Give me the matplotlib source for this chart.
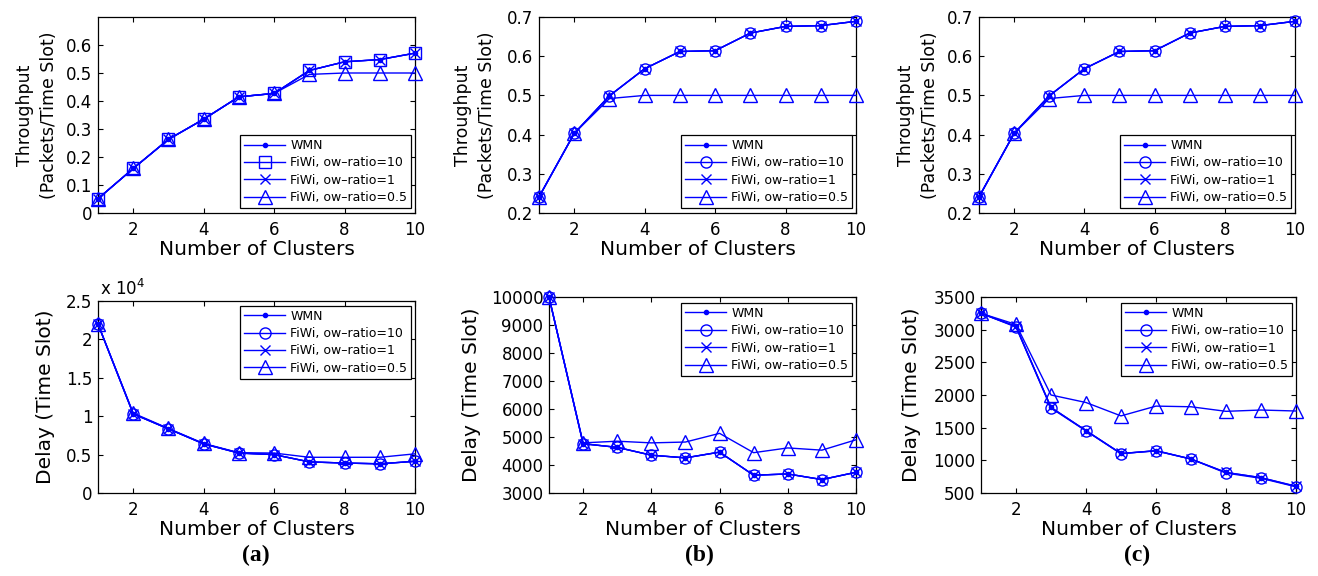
import matplotlib
matplotlib.use("Agg")
import matplotlib.pyplot as plt
from matplotlib.ticker import FuncFormatter

plt.rcParams['font.family'] = ['DejaVu Sans']

clusters = [1, 2, 3, 4, 5, 6, 7, 8, 9, 10]
labels = ["WMN", "FiWi, ow\u2013ratio=10", "FiWi, ow\u2013ratio=1", "FiWi, ow\u2013ratio=0.5"]

# (a) throughput
thr_a_wmn = [0.051, 0.159, 0.263, 0.335, 0.415, 0.427, 0.509, 0.540, 0.548, 0.571]
thr_a_ow10 = [0.051, 0.159, 0.263, 0.335, 0.415, 0.427, 0.509, 0.540, 0.548, 0.571]
thr_a_ow1 = [0.051, 0.159, 0.263, 0.335, 0.415, 0.427, 0.509, 0.540, 0.548, 0.571]
thr_a_ow05 = [0.051, 0.159, 0.263, 0.335, 0.415, 0.427, 0.495, 0.500, 0.500, 0.500]
# (b) throughput
thr_b_wmn = [0.241, 0.403, 0.499, 0.568, 0.612, 0.614, 0.659, 0.676, 0.678, 0.689]
thr_b_ow10 = [0.241, 0.403, 0.499, 0.568, 0.612, 0.614, 0.659, 0.676, 0.678, 0.689]
thr_b_ow1 = [0.241, 0.403, 0.499, 0.568, 0.612, 0.614, 0.659, 0.676, 0.678, 0.689]
thr_b_ow05 = [0.241, 0.403, 0.492, 0.500, 0.500, 0.500, 0.500, 0.500, 0.500, 0.500]
# (c) throughput
thr_c_wmn = [0.241, 0.403, 0.499, 0.568, 0.612, 0.614, 0.659, 0.676, 0.678, 0.689]
thr_c_ow10 = [0.241, 0.403, 0.499, 0.568, 0.612, 0.614, 0.659, 0.676, 0.678, 0.689]
thr_c_ow1 = [0.241, 0.403, 0.499, 0.568, 0.612, 0.614, 0.659, 0.676, 0.678, 0.689]
thr_c_ow05 = [0.241, 0.403, 0.492, 0.500, 0.500, 0.500, 0.500, 0.500, 0.500, 0.500]

# (a) delay
del_a_wmn = [22000, 10300, 8350, 6400, 5200, 5000, 4050, 3900, 3800, 4130]
del_a_ow10 = [22000, 10300, 8350, 6400, 5200, 5000, 4050, 3900, 3800, 4130]
del_a_ow1 = [22000, 10300, 8350, 6400, 5200, 5000, 4050, 3900, 3800, 4130]
del_a_ow05 = [22000, 10400, 8400, 6450, 5250, 5200, 4650, 4650, 4650, 5100]
# (b) delay
del_b_wmn = [10000, 4760, 4630, 4350, 4255, 4460, 3635, 3680, 3480, 3740]
del_b_ow10 = [10000, 4760, 4630, 4350, 4255, 4460, 3635, 3680, 3480, 3740]
del_b_ow1 = [10000, 4760, 4630, 4350, 4255, 4460, 3635, 3680, 3480, 3740]
del_b_ow05 = [10000, 4790, 4850, 4790, 4820, 5130, 4440, 4610, 4530, 4900]
# (c) delay
del_c_wmn = [3250, 3050, 1810, 1455, 1105, 1145, 1020, 815, 735, 600]
del_c_ow10 = [3250, 3040, 1800, 1450, 1100, 1150, 1020, 805, 725, 595]
del_c_ow1 = [3250, 3050, 1810, 1455, 1105, 1145, 1020, 815, 735, 605]
del_c_ow05 = [3250, 3080, 2000, 1885, 1680, 1830, 1820, 1750, 1770, 1755]

W, H = 1318, 576
fig = plt.figure(figsize=(W / 100, H / 100), dpi=100)

def ax_at(l, r, t, b):
    return fig.add_axes([l / W, 1 - b / H, (r - l) / W, (b - t) / H])

BLUE = (0, 0, 1)

def draw(ax, series, ow10_marker, yticks, ylim, ylabel, ylab_fs, ylab_x, leg_loc, leg_anchor, fmt=None):
    wmn, ow10, ow1, ow05 = series
    hs = []
    hs += ax.plot(clusters, wmn, color=BLUE, lw=1.0, marker='.', ms=6, clip_on=False, zorder=3)
    hs += ax.plot(clusters, ow10, color=BLUE, lw=1.0, marker=ow10_marker, ms=8, mfc='none', mew=1.0, clip_on=False, zorder=3)
    hs += ax.plot(clusters, ow1, color=BLUE, lw=1.0, marker='x', ms=6.5, mew=1.0, clip_on=False, zorder=3)
    hs += ax.plot(clusters, ow05, color=BLUE, lw=1.0, marker='^', ms=10.5, mfc='none', mew=1.0, clip_on=False, zorder=3)
    ax.set_xlim(1, 10)
    ax.set_xticks([2, 4, 6, 8, 10])
    ax.set_ylim(*ylim)
    ax.set_yticks(yticks)
    if fmt is not None:
        ax.yaxis.set_major_formatter(fmt)
    else:
        ax.yaxis.set_major_formatter(FuncFormatter(lambda v, p: "%g" % round(v, 6)))
    ax.tick_params(direction='in', top=True, right=True, length=3.5, width=0.8, labelsize=12)
    ax.tick_params(axis='x', pad=6)
    ax.tick_params(axis='y', pad=4)
    for s in ax.spines.values():
        s.set_linewidth(0.9)
    ax.set_xlabel("Number of Clusters", fontsize=14.5)
    ax.xaxis.set_label_coords(0.5, -0.14)
    ax.set_ylabel(ylabel, fontsize=ylab_fs, linespacing=1.45)
    ax.yaxis.set_label_coords(ylab_x, 0.5)
    leg = ax.legend(hs, labels, loc=leg_loc, bbox_to_anchor=leg_anchor, borderaxespad=0,
                    fontsize=9, fancybox=False, framealpha=1, edgecolor='black',
                    handlelength=3.3, handletextpad=0.4, labelspacing=0.35, borderpad=0.3)
    leg.get_frame().set_linewidth(0.9)
    return ax

thr_label = "Throughput\n(Packets/Time Slot)"
del_label = "Delay (Time Slot)"

a1 = ax_at(98, 415, 17, 213)
draw(a1, (thr_a_wmn, thr_a_ow10, thr_a_ow1, thr_a_ow05), 's',
     [0, 0.1, 0.2, 0.3, 0.4, 0.5, 0.6], (0, 0.7), thr_label, 12.5, -0.125,
     'lower right', (0.987, 0.026))
a2 = ax_at(539, 856, 17, 213)
draw(a2, (thr_b_wmn, thr_b_ow10, thr_b_ow1, thr_b_ow05), 'o',
     [0.2, 0.3, 0.4, 0.5, 0.6, 0.7], (0.2, 0.7), thr_label, 12.5, -0.135,
     'lower right', (0.987, 0.026))
a3 = ax_at(979, 1295, 17, 213)
draw(a3, (thr_c_wmn, thr_c_ow10, thr_c_ow1, thr_c_ow05), 'o',
     [0.2, 0.3, 0.4, 0.5, 0.6, 0.7], (0.2, 0.7), thr_label, 12.5, -0.125,
     'lower right', (0.987, 0.026))

b1 = ax_at(98, 415, 301, 493)
draw(b1, (del_a_wmn, del_a_ow10, del_a_ow1, del_a_ow05), 'o',
     [0, 5000, 10000, 15000, 20000, 25000], (0, 25000), del_label, 14.5, -0.135,
     'upper right', (0.987, 0.974),
     fmt=FuncFormatter(lambda v, p: "%g" % (v / 1e4)))
b1.text(0.005, 1.01, r"x 10$^{4}$", transform=b1.transAxes, ha='left', va='bottom', fontsize=12)
b2 = ax_at(549, 856, 297, 493)
draw(b2, (del_b_wmn, del_b_ow10, del_b_ow1, del_b_ow05), 'o',
     [3000, 4000, 5000, 6000, 7000, 8000, 9000, 10000], (3000, 10000), del_label, 14.5, -0.22,
     'upper right', (0.987, 0.969))
b3 = ax_at(981, 1296, 297, 493)
draw(b3, (del_c_wmn, del_c_ow10, del_c_ow1, del_c_ow05), 'o',
     [500, 1000, 1500, 2000, 2500, 3000, 3500], (500, 3500), del_label, 14.5, -0.19,
     'upper right', (0.987, 0.969))

for x, t in [(256, "(a)"), (699, "(b)"), (1137, "(c)")]:
    fig.text(x / W, 1 - 555 / H, t, ha='center', va='center', fontsize=17,
             family=['Liberation Serif', 'DejaVu Serif'], fontweight='bold')

fig.savefig("out.png", dpi=100)
